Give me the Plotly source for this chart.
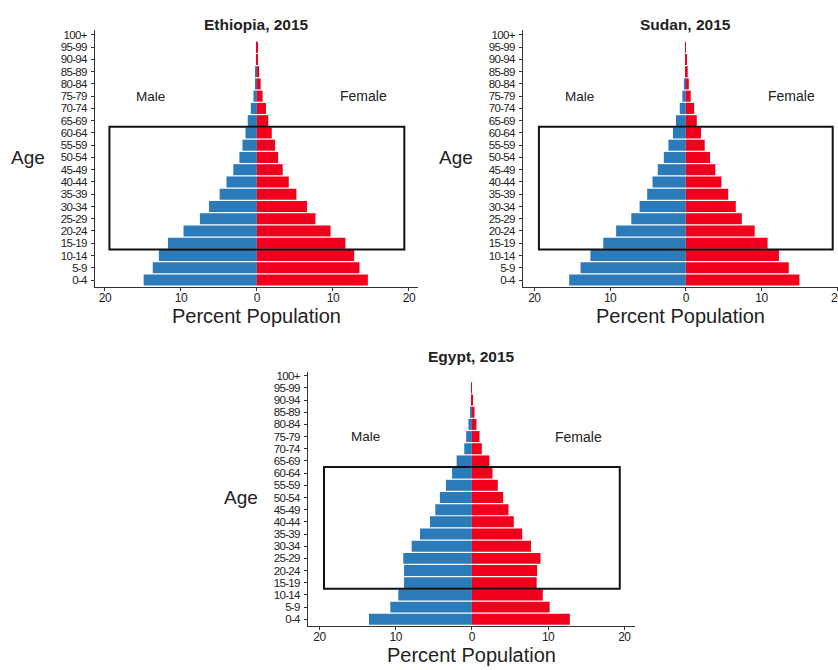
import plotly.graph_objects as go

age_groups = ["0-4", "5-9", "10-14", "15-19", "20-24", "25-29", "30-34", "35-39",
              "40-44", "45-49", "50-54", "55-59", "60-64", "65-69", "70-74", "75-79",
              "80-84", "85-89", "90-94", "95-99", "100+"]

ethiopia_male = [14.9, 13.7, 12.9, 11.7, 9.65, 7.5, 6.3, 4.9, 4.0, 3.1, 2.3, 1.9, 1.5, 1.2, 0.8, 0.45, 0.22, 0.15, 0.05, 0.02, 0.0]
ethiopia_female = [14.6, 13.5, 12.8, 11.65, 9.7, 7.7, 6.6, 5.2, 4.2, 3.4, 2.8, 2.4, 1.96, 1.5, 1.2, 0.75, 0.5, 0.3, 0.1, 0.03, 0.0]

sudan_male = [15.4, 13.9, 12.6, 10.9, 9.2, 7.2, 6.1, 5.1, 4.4, 3.7, 2.9, 2.3, 1.7, 1.3, 0.8, 0.45, 0.25, 0.1, 0.03, 0.0, 0.0]
sudan_female = [15.0, 13.6, 12.3, 10.8, 9.1, 7.4, 6.6, 5.6, 4.7, 3.9, 3.2, 2.5, 2.0, 1.45, 1.1, 0.65, 0.4, 0.25, 0.07, 0.01, 0.0]

egypt_male = [13.5, 10.7, 9.65, 8.9, 8.9, 9.0, 7.9, 6.8, 5.5, 4.8, 4.2, 3.4, 2.6, 2.0, 1.0, 0.75, 0.45, 0.2, 0.05, 0.0, 0.0]
egypt_female = [12.85, 10.2, 9.3, 8.5, 8.55, 9.0, 7.75, 6.6, 5.5, 4.8, 4.1, 3.4, 2.7, 2.3, 1.3, 1.0, 0.6, 0.35, 0.1, 0.01, 0.0]

panels = [
    ("Ethiopia, 2015", ethiopia_male, ethiopia_female),
    ("Sudan, 2015", sudan_male, sudan_female),
    ("Egypt, 2015", egypt_male, egypt_female),
]
x_ticks = [-20, -10, 0, 10, 20]
x_ticklabels = ["20", "10", "0", "10", "20"]
box_x = [-19.4, 19.4]
box_y = [2.5, 12.5]

W, H = 838, 670
# pixel geometry of each panel: (left, right, top, bottom), x range, y range
geom = [
    ((95, 418, 30, 287), [-21.3, 21.2], [-0.57, 20.4]),
    ((523, 838, 30, 287), [-21.5, 20.1], [-0.57, 20.4]),
    ((308, 635, 372, 626), [-21.5, 21.4], [-0.55, 20.3]),
]

BLUE = "#2b7bba"
RED = "#f0001c"
FONT = "Liberation Sans, Arial"
y_tick_font = dict(family=FONT, size=11.5, color="#222222")
x_tick_font = dict(family=FONT, size=12, color="#222222")
y_ticktext = ['<span style="letter-spacing:-0.7px">' + a + '</span>' for a in age_groups]
x_ticktext = ['<span style="letter-spacing:-0.5px">' + a + '</span>' for a in x_ticklabels]

fig = go.Figure()
layout = dict(width=W, height=H, margin=dict(l=0, r=0, t=0, b=0, autoexpand=False),
              plot_bgcolor="white", paper_bgcolor="white", showlegend=False,
              barmode="relative", bargap=0.1)
annotations = []
shapes = []
for i, ((title, male, female), ((l, r, t, b), xr, yr)) in enumerate(zip(panels, geom)):
    sfx = "" if i == 0 else str(i + 1)
    xa, ya = "x" + sfx, "y" + sfx
    fig.add_trace(go.Bar(y=age_groups, x=[-v for v in male], orientation="h",
                         marker=dict(color=BLUE, line=dict(width=0)), xaxis=xa, yaxis=ya))
    fig.add_trace(go.Bar(y=age_groups, x=female, orientation="h",
                         marker=dict(color=RED, line=dict(width=0)), xaxis=xa, yaxis=ya))
    layout["xaxis" + sfx] = dict(domain=[l / W, r / W], range=xr, anchor=ya, automargin=False,
                                 tickmode="array", tickvals=x_ticks, ticktext=x_ticktext,
                                 showline=True, linecolor="#333333", linewidth=1,
                                 ticks="outside", ticklen=3, tickcolor="#333333",
                                 showgrid=False, zeroline=False, tickfont=x_tick_font,
                                 ticklabelstandoff=-3, ticklabeloverflow="allow",
                                 title=dict(text="Percent Population",
                                            font=dict(family=FONT, size=20, color="#222222"),
                                            standoff=3))
    layout["yaxis" + sfx] = dict(domain=[1 - b / H, 1 - t / H], range=yr, anchor=xa, automargin=False,
                                 type="category", categoryorder="array", categoryarray=age_groups,
                                 tickmode="array", tickvals=age_groups, ticktext=y_ticktext,
                                 showline=True, linecolor="#333333", linewidth=1,
                                 ticks="outside", ticklen=3, tickcolor="#333333",
                                 showgrid=False, zeroline=False, tickfont=y_tick_font,
                                 ticklabelstandoff=2)
    annotations.append(dict(text="<b>" + title + "</b>", xref=xa, yref="paper",
                            x=0, y=1 - (t - 16) / H, showarrow=False,
                            font=dict(family=FONT, size=15.5, color="#222222")))
    annotations.append(dict(text="Male", xref=xa, yref=ya, x=-14, y=15, showarrow=False,
                            font=dict(family=FONT, size=13.5, color="#222222")))
    annotations.append(dict(text="Female", xref=xa, yref=ya, x=14, y=15, showarrow=False,
                            font=dict(family=FONT, size=14, color="#222222")))
    annotations.append(dict(text="Age", xref="paper", yref=ya, x=(l - 67) / W, y=10.0,
                            xanchor="center", showarrow=False,
                            font=dict(family=FONT, size=19, color="#222222")))
    shapes.append(dict(type="rect", xref=xa, yref=ya, x0=box_x[0], x1=box_x[1],
                       y0=box_y[0], y1=box_y[1], line=dict(color="#111111", width=2),
                       fillcolor="rgba(0,0,0,0)", layer="above"))

layout["annotations"] = annotations
layout["shapes"] = shapes
fig.update_layout(**layout)
fig.write_html("out.html", config={"displayModeBar": False},
               post_script="document.body.style.margin='0';document.body.style.overflow='hidden';")
